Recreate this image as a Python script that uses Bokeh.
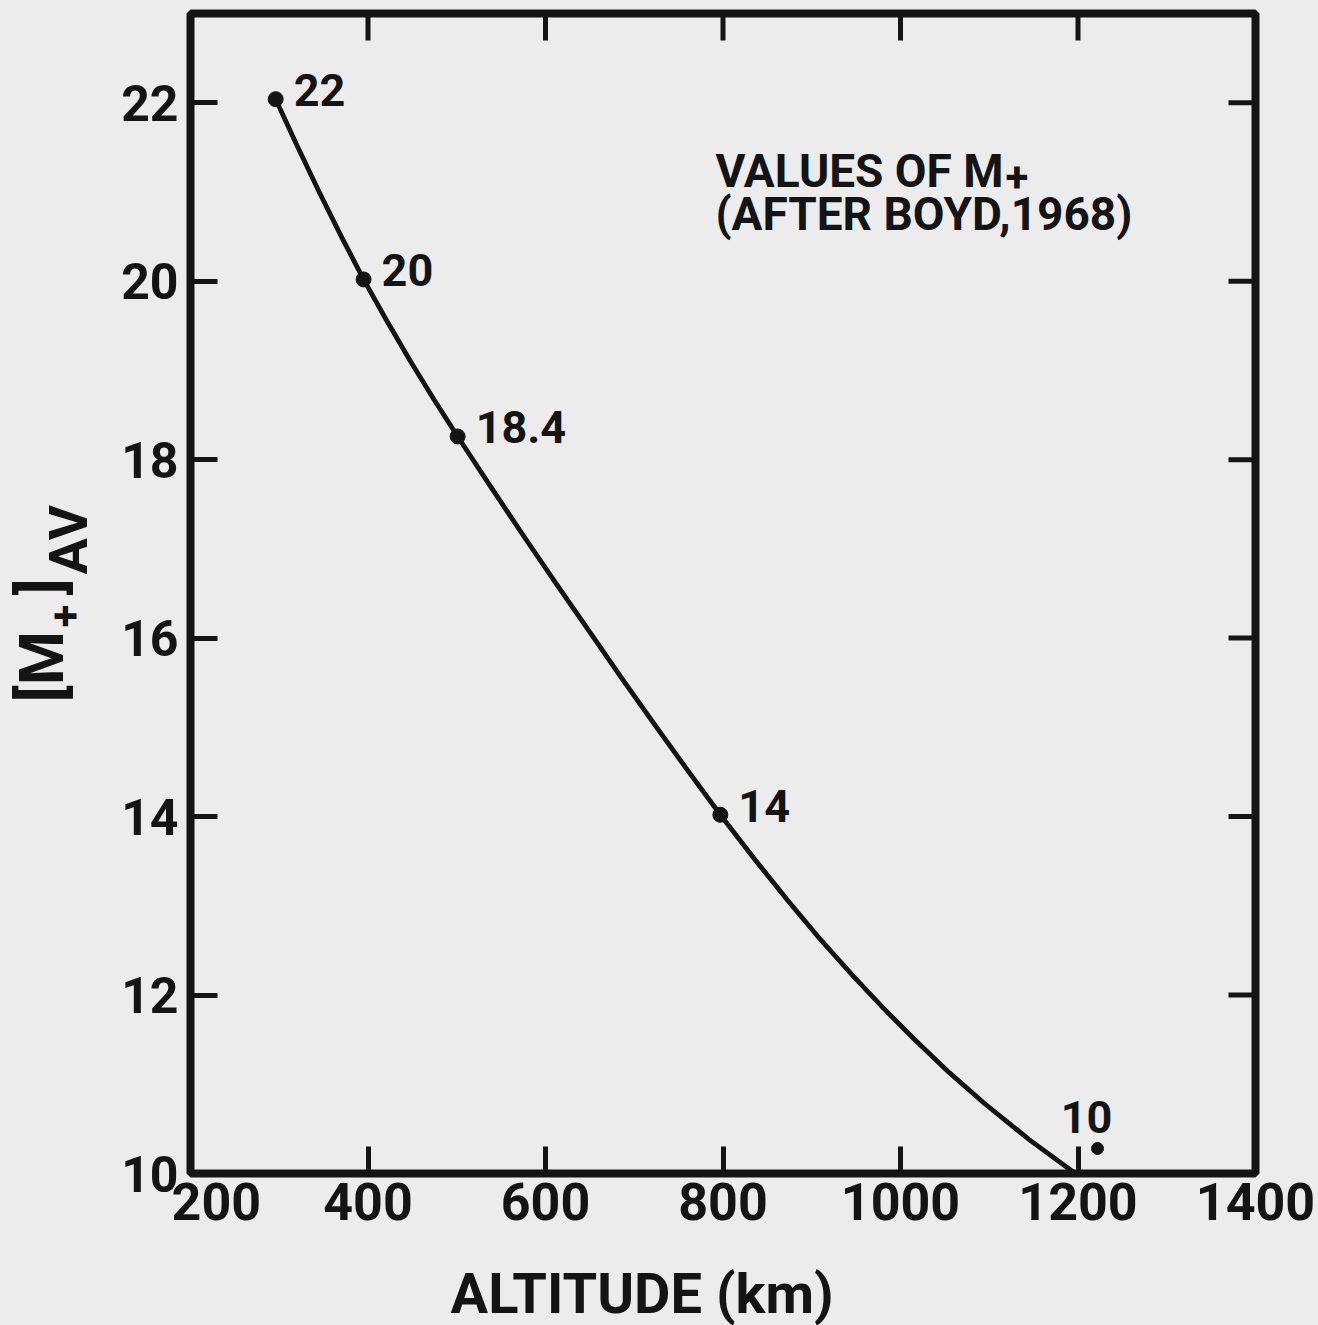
import math
from bokeh.plotting import figure
from bokeh.layouts import row, column
from bokeh.models import Range1d, FixedTicker, Label
from bokeh.core.properties import value
from bokeh.embed import file_html
from bokeh.resources import INLINE

# ---- data ----
curve_altitude_km = [296, 320, 345, 370, 395, 421, 448, 474, 501, 538, 575, 612, 649,
                     686, 723, 760, 797, 835, 873, 910, 947, 981, 1015, 1055, 1094,
                     1145, 1197]
curve_m_plus = [22.04, 21.52, 21.00, 20.50, 20.02, 19.56, 19.10, 18.68, 18.26, 17.70,
                17.15, 16.61, 16.08, 15.55, 15.03, 14.52, 14.02, 13.53, 13.06, 12.62,
                12.21, 11.85, 11.51, 11.13, 10.79, 10.38, 10.00]

point_altitude_km = [296, 395, 501, 797]
point_m_plus = [22.04, 20.02, 18.26, 14.02]
point_labels = ["22", "20", "18.4", "14"]

extra_altitude_km = [1222]
extra_m_plus = [10.28]
extra_labels = ["10"]

x_ticks = [200, 400, 600, 800, 1000, 1200, 1400]
y_ticks = [10, 12, 14, 16, 18, 20, 22]
x_limits = (200, 1400)
y_limits = (10, 23)

title_line1 = "VALUES OF M"
title_sub = "+"
title_line2 = "(AFTER BOYD,1968)"
x_title = "ALTITUDE (km)"
y_title_parts = ["[M", "+", "]", "AV"]

# ---- styling ----
INK = "#141414"
PAPER = "#ececec"
FONT = "Roboto"

p = figure(width=1218, height=1255, output_backend="svg", toolbar_location=None,
           x_range=Range1d(*x_limits), y_range=Range1d(*y_limits),
           min_border_left=90, min_border_right=63, min_border_top=13,
           min_border_bottom=82,
           background_fill_color=PAPER, border_fill_color=PAPER)
p.grid.visible = False
p.outline_line_color = INK
p.outline_line_width = 8

for ax in (p.xaxis[0], p.yaxis[0]):
    ax.major_tick_in = 27
    ax.major_tick_out = 0
    ax.minor_tick_in = 0
    ax.minor_tick_out = 0
    ax.major_tick_line_width = 5
    ax.major_tick_line_color = INK
    ax.axis_line_color = None
    ax.major_label_text_font = FONT
    ax.major_label_text_font_style = "bold"
    ax.major_label_text_color = INK

p.xaxis.ticker = FixedTicker(ticks=x_ticks)
p.yaxis.ticker = FixedTicker(ticks=y_ticks)
p.xaxis.major_label_text_font_size = "52px"
p.yaxis.major_label_text_font_size = "50px"
p.xaxis.major_label_standoff = -2
p.yaxis.major_label_standoff = 12
# the first x label sits to the right of its corner tick, as in the original
p.xaxis.major_label_overrides = {x_ticks[0]: "\u00a0" * 4 + str(x_ticks[0])}

# mirrored inward ticks on top and right edges (outer half of each dash is clipped by the frame)
p.scatter(x_ticks, [y_limits[1]] * len(x_ticks), marker="dash", size=54,
          angle=math.pi / 2, line_width=5, line_color=INK)
p.scatter([x_limits[1]] * len(y_ticks), y_ticks, marker="dash", size=54,
          line_width=5, line_color=INK)

# ---- curve and points ----
p.line(curve_altitude_km, curve_m_plus, line_width=4.8, line_color=INK,
       line_join="round", line_cap="round")
p.scatter(point_altitude_km, point_m_plus, size=15, color=INK)
p.scatter(extra_altitude_km, extra_m_plus, size=12, color=INK)

p.text(point_altitude_km, point_m_plus, text=point_labels,
       text_font=value(FONT), text_font_style="bold", text_font_size="45px",
       text_color=INK, text_align="left", text_baseline="middle",
       x_offset=18, y_offset=-9)
p.text(extra_altitude_km, extra_m_plus, text=extra_labels,
       text_font=value(FONT), text_font_style="bold", text_font_size="45px",
       text_color=INK, text_align="center", text_baseline="middle",
       x_offset=-11, y_offset=-32)


def add_label(fig, txt, sx, sy, size, angle=0.0):
    fig.add_layout(Label(x=sx, y=sy, x_units="screen", y_units="screen", text=txt,
                         angle=angle, text_font=FONT, text_font_style="bold",
                         text_font_size=size, text_color=INK, text_align="left",
                         text_baseline="middle"))


# ---- inset title ----
add_label(p, title_line1, 525, 1003, "46px")
add_label(p, title_sub, 815, 997, "42px")
add_label(p, title_line2, 525, 960, "46px")


def blank_fig(w, h):
    f = figure(width=w, height=h, output_backend="svg", toolbar_location=None,
               x_range=Range1d(0, 1), y_range=Range1d(0, 1),
               x_axis_type=None, y_axis_type=None, min_border=0,
               background_fill_color=PAPER, border_fill_color=PAPER)
    f.outline_line_color = None
    return f


# ---- x axis title strip (its frame is aligned with the main frame's left edge) ----
xfig = blank_fig(1218, 70)
add_label(xfig, x_title, 260, 32, "56px")

# ---- y axis title strip: [M+]AV with subscripts ----
yfig = blank_fig(100, 1325)
ang = math.pi / 2
add_label(yfig, y_title_parts[0], 41, 623, "62px", angle=ang)
add_label(yfig, y_title_parts[1], 64, 698, "42px", angle=ang)
add_label(yfig, y_title_parts[2], 41, 730, "62px", angle=ang)
add_label(yfig, y_title_parts[3], 68, 751, "54px", angle=ang)

right_col = column(p, xfig, spacing=0, styles={"background-color": PAPER})
layout = row(yfig, right_col, spacing=0, styles={"background-color": PAPER})

open("out.html", "w").write(file_html(layout, INLINE))
